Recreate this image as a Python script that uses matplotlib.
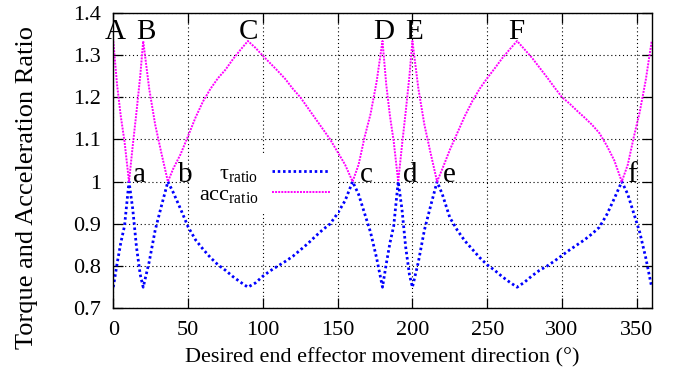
import matplotlib
matplotlib.use("Agg")
import matplotlib.pyplot as plt
from matplotlib.ticker import FormatStrFormatter

### Fonts: Times-like serif everywhere
plt.rcParams["font.family"] = ["Liberation Serif", "DejaVu Serif"]
plt.rcParams["mathtext.fontset"] = "custom"
plt.rcParams["mathtext.rm"] = "Liberation Serif"
plt.rcParams["mathtext.it"] = "Liberation Serif:italic"

### Data (direction in degrees)
deg = [0, 2.5, 5, 7.5, 10.5, 13, 15.5, 18, 20, 24, 28, 32, 36.5, 40, 45, 50, 55, 60, 65, 70, 75, 80, 85,
       90, 95, 100, 105, 110, 115, 120, 125, 130, 135, 140, 145, 150, 155, 160, 164, 168, 172, 176,
       180, 182.5, 185, 187.5, 190.5, 193, 195.5, 198, 200, 204, 208, 212, 216.5, 220, 225, 230, 235,
       240, 245, 250, 255, 260, 265, 270, 275, 280, 285, 290, 295, 300, 305, 310, 315, 320, 325, 330,
       335, 340, 344, 348, 352, 356, 360]

tau_ratio = [0.750, 0.805, 0.855, 0.895, 1.000, 0.935, 0.845, 0.780, 0.750, 0.810, 0.885, 0.940, 1.000,
             0.975, 0.935, 0.893, 0.862, 0.840, 0.820, 0.803, 0.790, 0.775, 0.762,
             0.750, 0.760, 0.776, 0.789, 0.800, 0.811, 0.823, 0.838, 0.853, 0.870, 0.886, 0.900, 0.925,
             0.955, 1.000, 0.970, 0.925, 0.880, 0.820,
             0.750, 0.805, 0.855, 0.895, 1.000, 0.935, 0.845, 0.780, 0.750, 0.810, 0.885, 0.940, 1.000,
             0.970, 0.915, 0.885, 0.860, 0.840, 0.820, 0.803, 0.790, 0.775, 0.762,
             0.750, 0.762, 0.777, 0.790, 0.800, 0.812, 0.825, 0.838, 0.850, 0.862, 0.876, 0.892, 0.922,
             0.960, 1.000, 0.970, 0.925, 0.880, 0.820, 0.750]

acc_ratio = [1.333, 1.230, 1.155, 1.095, 1.000, 1.085, 1.165, 1.250, 1.333, 1.220, 1.135, 1.070, 1.000,
             1.030, 1.065, 1.108, 1.152, 1.190, 1.220, 1.245, 1.265, 1.290, 1.312,
             1.333, 1.317, 1.298, 1.280, 1.262, 1.243, 1.220, 1.200, 1.175, 1.150, 1.125, 1.100, 1.070,
             1.040, 1.000, 1.040, 1.105, 1.160, 1.235,
             1.333, 1.230, 1.155, 1.095, 1.000, 1.085, 1.165, 1.250, 1.333, 1.220, 1.135, 1.070, 1.000,
             1.030, 1.075, 1.115, 1.155, 1.190, 1.220, 1.245, 1.268, 1.292, 1.313,
             1.333, 1.313, 1.293, 1.270, 1.247, 1.223, 1.200, 1.185, 1.168, 1.152, 1.135, 1.115, 1.085,
             1.050, 1.000, 1.040, 1.105, 1.165, 1.240, 1.333]

### Point labels
peak_labels = ["A", "B", "C", "D", "E", "F"]
peak_x = [1.5, 21.7, 90.3, 180.8, 201, 269.7]
cross_labels = ["a", "b", "c", "d", "e", "f"]
cross_x = [13.2, 43.0, 164.9, 193.5, 220.7, 343.7]

### Figure
fig = plt.figure(figsize=(6.81, 3.8), dpi=100)
ax = fig.add_axes([113.3 / 681, (380 - 308.3) / 380, 538.4 / 681, 295.6 / 380])

ax.plot(deg, tau_ratio, color="#0000ff", lw=2.0, ls=(0, (0.9, 1.0)), label=r"τ$_{\mathrm{ratio}}$")
ax.plot(deg, acc_ratio, color="#ff00ff", lw=1.4, ls=(0, (1, 0.6)), label=r"acc$_{\mathrm{ratio}}$")

for lab, x in zip(peak_labels, peak_x):
    ax.text(x, 1.337, lab, fontsize=21, ha="center", va="baseline", zorder=10)
for lab, x in zip(cross_labels, cross_x):
    ax.text(x, 1.0, lab, fontsize=21, ha="left", va="baseline", zorder=10)

### Axes, ticks, grid
ax.set_xlim(0, 360)
ax.set_ylim(0.7, 1.4)
ax.set_xticks(range(0, 351, 50))
ax.set_yticks([0.7, 0.8, 0.9, 1.0, 1.1, 1.2, 1.3, 1.4])
ax.yaxis.set_major_formatter(FormatStrFormatter("%g"))
ax.tick_params(direction="in", length=7, width=0.9, labelsize=16, top=True, right=True, pad=9)
ax.set_axisbelow(True)
ax.grid(True, color="black", lw=0.8, ls=(0, (1, 2.5)))
for s in ax.spines.values():
    s.set_linewidth(1.0)

ax.set_xlabel("Desired end effector movement direction (°)", fontsize=16, labelpad=6)
ax.set_ylabel("Torque and Acceleration Ratio", fontsize=19)
ax.yaxis.set_label_coords(-0.14, 0.41)

leg = ax.legend(loc="center", bbox_to_anchor=(0.28, 0.42), markerfirst=False, frameon=True,
                fancybox=False, edgecolor="none", facecolor="white", framealpha=1,
                handlelength=2.6, handletextpad=0.6, labelspacing=0.05, borderpad=0.4, fontsize=16)
leg.set_zorder(5)

plt.savefig("out.png", dpi=100)
